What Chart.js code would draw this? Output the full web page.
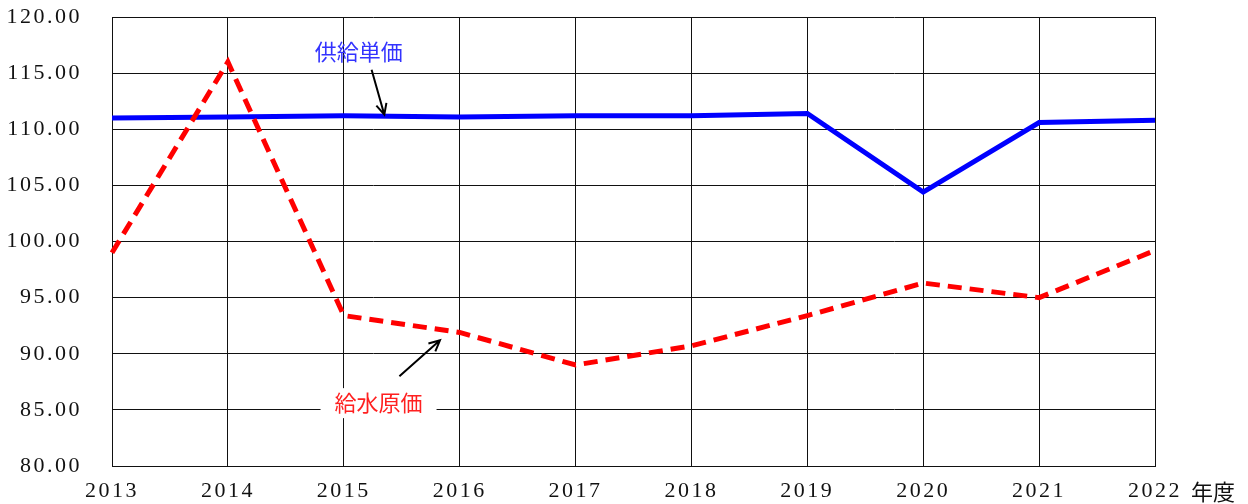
<!DOCTYPE html>
<html>
<head>
<meta charset="utf-8">
<script src="https://cdn.jsdelivr.net/npm/chart.js@4/dist/chart.umd.min.js"></script>
<style>
  html, body { margin: 0; padding: 0; background: #fff; }
  #wrap { width: 1248px; height: 504px; }
</style>
</head>
<body>
<div id="wrap"><canvas id="priceChart"></canvas></div>
<script>
// 年度
var years = ['2013', '2014', '2015', '2016', '2017', '2018', '2019', '2020', '2021', '2022'];
// 供給単価
var supplyPrice = [111.0, 111.1, 111.2, 111.1, 111.2, 111.2, 111.4, 104.4, 110.6, 110.8];
// 給水原価
var waterCost = [99.0, 116.0, 93.4, 91.9, 89.0, 90.7, 93.4, 96.3, 95.0, 99.2];

var numFont = '"Liberation Serif", serif';
var jpFont = '"Noto Sans CJK JP", sans-serif';

// labels with arrows, placed in data units (category index, value)
var notes = [
    { text: '供給単価', color: '#3333ff', at: [2.13, 116.9], from: [2.24, 115.3], to: [2.35, 111.3], box: false },
    { text: '給水原価', color: '#ff2020', at: [2.30, 85.6], from: [2.48, 88.0], to: [2.83, 91.2], box: true }
];

function arrow(ctx, x1, y1, x2, y2) {
    var a = Math.atan2(y2 - y1, x2 - x1);
    var h = 12;
    ctx.beginPath();
    ctx.moveTo(x1, y1);
    ctx.lineTo(x2, y2);
    ctx.moveTo(x2 - h * Math.cos(a - 0.45), y2 - h * Math.sin(a - 0.45));
    ctx.lineTo(x2, y2);
    ctx.lineTo(x2 - h * Math.cos(a + 0.45), y2 - h * Math.sin(a + 0.45));
    ctx.stroke();
}

var spacing = {
    id: 'spacing',
    beforeDraw: function (chart) { chart.ctx.letterSpacing = '2.5px'; },
    afterDatasetsDraw: function (chart) { chart.ctx.letterSpacing = '0px'; }
};

var notesPlugin = {
    id: 'notes',
    afterDraw: function (chart) {
        var ctx = chart.ctx;
        var xs = chart.scales.x, ys = chart.scales.y;
        ctx.save();
        ctx.letterSpacing = '0px';
        notes.forEach(function (n) {
            var x = xs.getPixelForValue(n.at[0]);
            var y = ys.getPixelForValue(n.at[1]);
            ctx.font = '22px ' + jpFont;
            var w = ctx.measureText(n.text).width;
            if (n.box) {
                ctx.fillStyle = '#fff';
                ctx.fillRect(x - w / 2 - 14, y - 15, w + 28, 30);
            }
            ctx.fillStyle = n.color;
            ctx.textAlign = 'center';
            ctx.textBaseline = 'middle';
            ctx.fillText(n.text, x, y);
            ctx.strokeStyle = '#000';
            ctx.lineWidth = 2;
            arrow(ctx, xs.getPixelForValue(n.from[0]), ys.getPixelForValue(n.from[1]),
                xs.getPixelForValue(n.to[0]), ys.getPixelForValue(n.to[1]));
        });
        // unit label after the last year
        ctx.font = '22px ' + jpFont;
        ctx.fillStyle = '#111';
        ctx.textAlign = 'left';
        ctx.textBaseline = 'middle';
        ctx.fillText('年度', xs.right + 36, chart.chartArea.bottom + 26);
        ctx.restore();
    }
};

var ctx = document.getElementById('priceChart').getContext('2d');
new Chart(ctx, {
    type: 'line',
    data: {
        labels: years,
        datasets: [{
            label: '給水原価',
            data: waterCost,
            borderColor: '#ff0000',
            borderWidth: 5,
            borderDash: [14, 8],
            pointRadius: 0,
            tension: 0,
            fill: false
        }, {
            label: '供給単価',
            data: supplyPrice,
            borderColor: '#0000ff',
            borderWidth: 5,
            pointRadius: 0,
            tension: 0,
            fill: false
        }]
    },
    options: {
        responsive: true,
        maintainAspectRatio: false,
        animation: false,
        devicePixelRatio: 1,
        layout: { padding: { top: 0, right: 93, left: 0, bottom: 0 } },
        plugins: {
            legend: { display: false },
            tooltip: { enabled: false }
        },
        scales: {
            x: {
                offset: false,
                grid: { color: '#111', lineWidth: 1, drawTicks: false },
                border: { color: '#111', width: 1 },
                ticks: {
                    color: '#111',
                    font: { family: numFont, size: 22 },
                    padding: 12,
                    maxRotation: 0,
                    autoSkip: false
                },
                afterFit: function (s) { s.height = 38; }
            },
            y: {
                min: 80,
                max: 120,
                grid: { color: '#111', lineWidth: 1, drawTicks: false },
                border: { color: '#111', width: 1 },
                ticks: {
                    stepSize: 5,
                    color: '#111',
                    font: { family: numFont, size: 22 },
                    padding: 30,
                    callback: function (v) { return v.toFixed(2); }
                },
                afterFit: function (s) {
                    s.width = 112;
                    s.paddingTop = 17;
                    s.paddingBottom = 0;
                }
            }
        }
    },
    plugins: [spacing, notesPlugin]
});
</script>
</body>
</html>
